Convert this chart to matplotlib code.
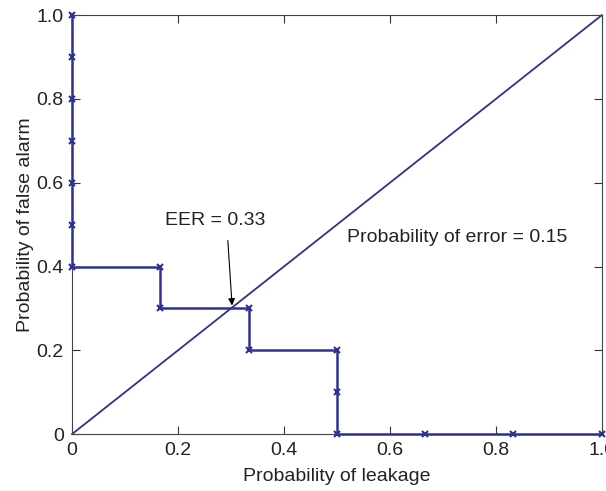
import matplotlib
matplotlib.use("Agg")
import matplotlib.pyplot as plt

# ROC-like staircase (leakage vs false alarm)
p_leak = [0, 0, 0, 0, 0, 0, 0, 1/6, 1/6, 1/3, 1/3, 0.5, 0.5, 0.5, 2/3, 5/6, 1.0]
p_false = [1.0, 0.9, 0.8, 0.7, 0.6, 0.5, 0.4, 0.4, 0.3, 0.3, 0.2, 0.2, 0.1, 0.0, 0.0, 0.0, 0.0]
diag_x = [0, 1]
diag_y = [0, 1]
ticks = [0, 0.2, 0.4, 0.6, 0.8, 1.0]
tick_labels = ["0", "0.2", "0.4", "0.6", "0.8", "1.0"]

plt.rcParams["font.family"] = ["Liberation Sans", "DejaVu Sans"]
blue = "#2e3192"
fs = 14

fig = plt.figure(figsize=(6.06, 4.91), dpi=100)
ax = fig.add_axes([0.119, 0.116, 0.874, 0.853])

ax.plot(diag_x, diag_y, color=blue, lw=1.3, clip_on=False)
ax.plot(p_leak, p_false, color=blue, lw=1.8, marker="x", ms=4.5, mew=1.5,
        clip_on=False, zorder=5)

ax.text(0.175, 0.51, "EER = 0.33", fontsize=fs, color="#222222", va="center")
ax.annotate("", xy=(0.302, 0.307), xytext=(0.294, 0.462),
            arrowprops=dict(arrowstyle="-|>", color="black", lw=0.8,
                            mutation_scale=10, shrinkA=0, shrinkB=0))
ax.text(0.519, 0.47, "Probability of error = 0.15", fontsize=fs,
        color="#222222", va="center")

ax.set_xlim(0, 1)
ax.set_ylim(0, 1)
ax.set_xticks(ticks)
ax.set_xticklabels(tick_labels)
ax.set_yticks(ticks)
ax.set_yticklabels(tick_labels)
ax.tick_params(direction="in", length=6, width=0.8, top=True, right=True,
               labelsize=fs, colors="#333333", labelcolor="#222222", pad=6)
for sp in ax.spines.values():
    sp.set_color("#444444")
    sp.set_linewidth(0.8)

ax.set_xlabel("Probability of leakage", fontsize=fs, color="#222222", labelpad=6)
ax.set_ylabel("Probability of false alarm", fontsize=fs, color="#222222", labelpad=2)

fig.savefig("out.png", dpi=100)
